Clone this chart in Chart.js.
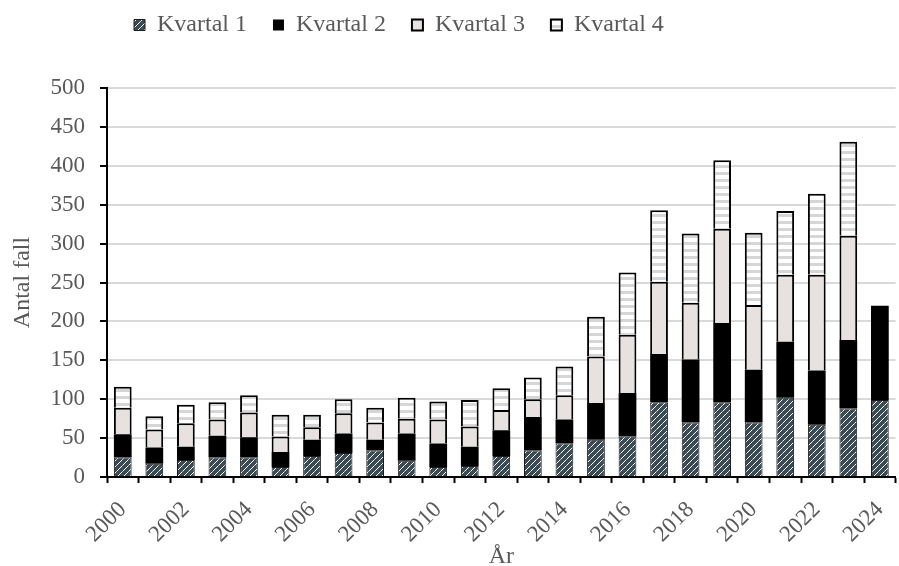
<!DOCTYPE html>
<html><head><meta charset="utf-8">
<script src="https://cdn.jsdelivr.net/npm/chart.js@4.4.1/dist/chart.umd.min.js"></script>
<style>
html,body{margin:0;padding:0;overflow:hidden;background:#fff;width:899px;height:566px}
#wrap{position:absolute;left:0;top:0;width:907px;height:566px}
</style></head>
<body><div id="wrap"><canvas id="c" width="907" height="566"></canvas></div>
<script>
const categories = ['2000','2001','2002','2003','2004','2005','2006','2007','2008','2009','2010','2011','2012','2013','2014','2015','2016','2017','2018','2019','2020','2021','2022','2023','2024'];
const tickLabels = ['2000','','2002','','2004','','2006','','2008','','2010','','2012','','2014','','2016','','2018','','2020','','2022','','2024'];
const seriesNames = ['Kvartal 1','Kvartal 2','Kvartal 3','Kvartal 4'];
const kvartal1 = [25,17,22,25,25,13,27,31,34,21,13,14,27,34,43,48,52,96,70,96,70,102,67,88,99];
const kvartal2 = [30,21,17,28,26,19,21,25,14,35,30,25,33,43,31,47,56,62,81,102,68,72,70,88,121];
const kvartal3 = [34,23,30,21,32,20,16,26,22,19,31,26,26,23,31,60,75,93,73,121,83,86,123,134,null];
const kvartal4 = [27,17,24,22,22,28,16,18,19,27,23,34,28,28,37,51,80,92,89,88,93,82,104,121,null];
const yTitle = 'Antal fall';
const xTitle = 'År';

const FONT = "'Liberation Serif', 'DejaVu Serif', serif";
const TEXT = '#595959';

function makePattern(w, h, draw) {
  const c = document.createElement('canvas');
  c.width = w; c.height = h;
  const g = c.getContext('2d');
  draw(g);
  return document.getElementById('c').getContext('2d').createPattern(c, 'repeat');
}
const hatch = makePattern(6, 6, g => {
  g.fillStyle = '#3a4b54'; g.fillRect(0, 0, 6, 6);
  g.fillStyle = '#ffffff';
  [[0,5],[1,4],[3,2],[4,1],[5,0]].forEach(p => g.fillRect(p[0], p[1], 1, 1));
  g.fillStyle = '#b8c0c4';
  [[2,3]].forEach(p => g.fillRect(p[0], p[1], 1, 1));
});
const stripes = makePattern(4, 7, g => {
  g.fillStyle = '#ffffff'; g.fillRect(0, 0, 4, 7);
  g.fillStyle = '#d6d6d6'; g.fillRect(0, 4, 4, 3);
});

const legendShift = {
  id: 'legendShift',
  afterLayout(chart) {
    const l = chart.legend;
    if (!l) return;
    l.left += 108; l.right += 108;
    l.top -= 41; l.bottom -= 41;
  }
};

new Chart(document.getElementById('c'), {
  type: 'bar',
  data: {
    labels: categories,
    datasets: [
      { label: seriesNames[0], data: kvartal1, backgroundColor: hatch, borderColor: '#1b1b1b', borderWidth: 1 },
      { label: seriesNames[1], data: kvartal2, backgroundColor: '#000000', borderColor: '#000000', borderWidth: 0 },
      { label: seriesNames[2], data: kvartal3, backgroundColor: '#e7e2df', borderColor: '#000000', borderWidth: 2 },
      { label: seriesNames[3], data: kvartal4, backgroundColor: stripes, borderColor: '#000000', borderWidth: 2 }
    ]
  },
  options: {
    responsive: false,
    animation: false,
    devicePixelRatio: 1,
    layout: { padding: { top: 28, left: 0, right: 0, bottom: 0 } },
    datasets: { bar: { categoryPercentage: 1, barPercentage: 0.5625 } },
    plugins: {
      legend: {
        position: 'top',
        align: 'start',
        labels: {
          boxWidth: 11, boxHeight: 11, padding: 26,
          color: TEXT, font: { family: FONT, size: 24 }
        }
      },
      tooltip: { enabled: false }
    },
    scales: {
      x: {
        stacked: true,
        offset: true,
        grid: { display: true, drawOnChartArea: false, drawTicks: true, tickLength: 6, tickColor: '#000', tickWidth: 2, offset: true },
        border: { display: true, color: '#000', width: 2 },
        ticks: {
          autoSkip: false, minRotation: 45, maxRotation: 45, padding: 19,
          color: TEXT, font: { family: FONT, size: 23, lineHeight: 0.5 },
          callback: (v, i) => tickLabels[i]
        },
        title: { display: true, text: xTitle, color: TEXT, font: { family: FONT, size: 24, lineHeight: 0.75 }, padding: 0 },
        afterFit: s => { s.height = 89; }
      },
      y: {
        stacked: true,
        min: 0, max: 500,
        ticks: { stepSize: 50, padding: 15, color: TEXT, font: { family: FONT, size: 23 } },
        grid: { color: '#d9d9d9', lineWidth: 2, tickLength: 7, tickColor: '#000', tickWidth: 2, drawTicks: true },
        border: { display: true, color: '#000', width: 2 },
        title: { display: true, text: yTitle, color: TEXT, font: { family: FONT, size: 24 }, padding: { top: 8, bottom: 0 } },
        afterFit: s => { s.width = 107; }
      }
    }
  },
  plugins: [legendShift]
});
</script>
</body></html>
